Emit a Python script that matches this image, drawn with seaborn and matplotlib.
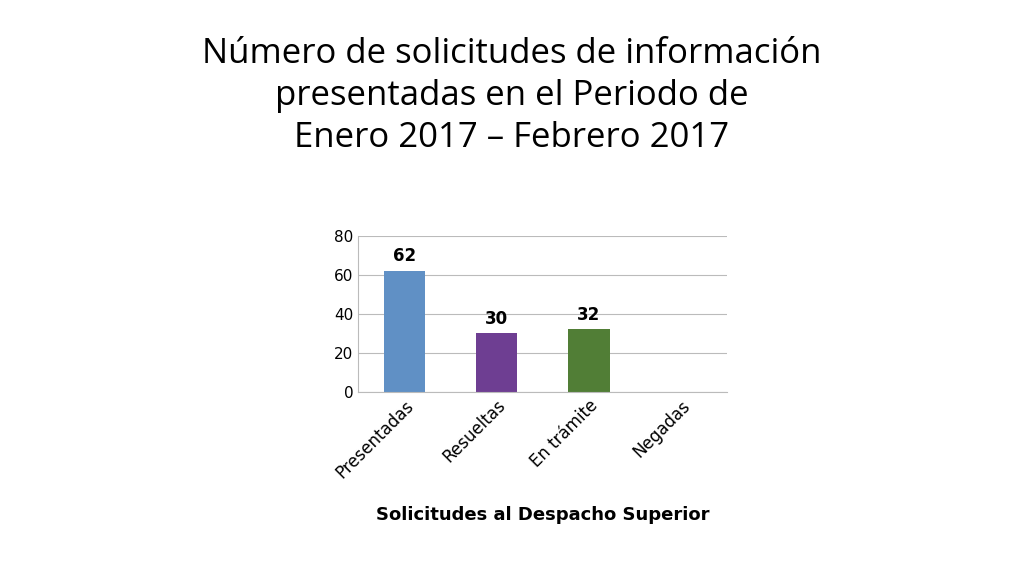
import matplotlib
matplotlib.use("Agg")
import matplotlib.pyplot as plt
import seaborn as sns
import pandas as pd

categories = ["Presentadas", "Resueltas", "En trámite", "Negadas"]
values = [62, 30, 32, 0]
colors = ["#4f8fd6", "#7030a0", "#4e8a2a", "#999999"]
yticks = [0, 20, 40, 60, 80]

df = pd.DataFrame({"cat": categories, "val": values})

fig = plt.figure(figsize=(10.24, 5.76), dpi=100)
fig.text(0.5, 0.935, "Número de solicitudes de información\npresentadas en el Periodo de\nEnero 2017 – Febrero 2017",
         ha="center", va="top", fontsize=25, family="Open Sans", linespacing=1.3)
ax = fig.add_axes([0.35, 0.32, 0.36, 0.27])
sns.barplot(data=df, x="cat", y="val", hue="cat", palette=colors, legend=False,
            ax=ax, width=0.45, edgecolor="none")
ax.set_ylim(0, 80)
ax.set_yticks(yticks)
ax.grid(axis="y", color="#bbbbbb", lw=0.8)
ax.set_axisbelow(True)
for s in ["top", "right"]:
    ax.spines[s].set_visible(False)
for s in ["left", "bottom"]:
    ax.spines[s].set_color("#bbbbbb")
ax.tick_params(length=0, labelsize=11)
ax.set_xticks(range(len(categories)))
ax.set_xticklabels(categories, rotation=45, ha="right", rotation_mode="anchor", fontsize=12)
for i, v in enumerate(values):
    if v > 0:
        ax.text(i, v + 3, str(v), ha="center", va="bottom", fontsize=12, fontweight="bold")
ax.set_ylabel("")
ax.set_xlabel("Solicitudes al Despacho Superior", fontsize=13, fontweight="bold", labelpad=18)
fig.savefig("out.png", dpi=100)
